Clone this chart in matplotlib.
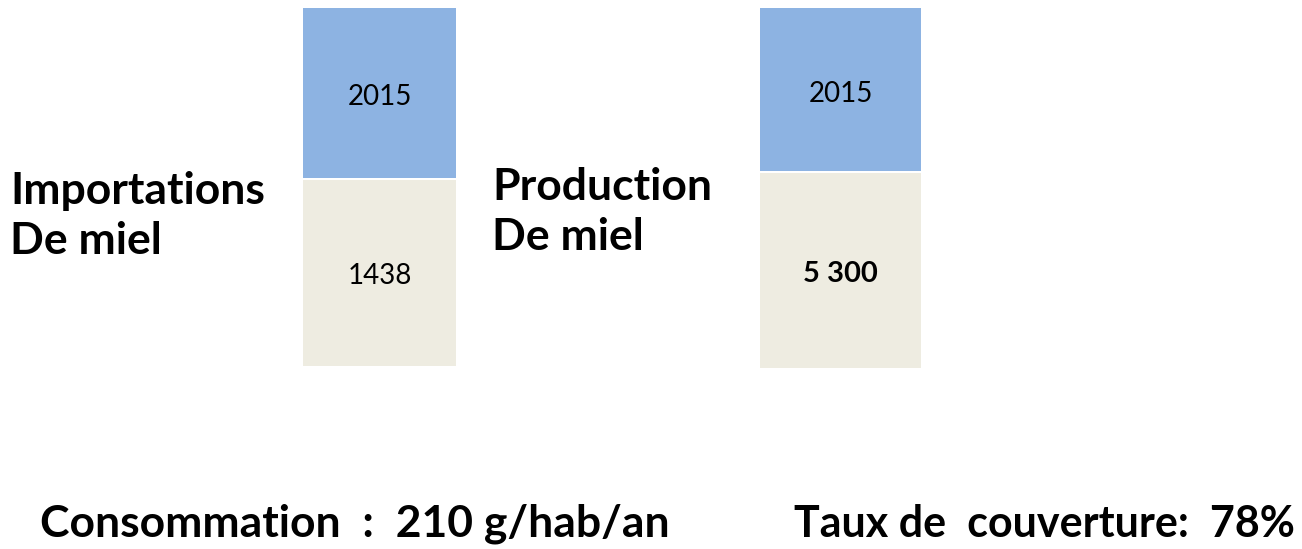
import matplotlib.pyplot as plt

plt.rcParams['font.family'] = ['Lato', 'DejaVu Sans']

# Data
categories = ['Importations\nDe miel', 'Production\nDe miel']
year_labels = ['2015', '2015']
value_labels = ['1438', '5 300']
value_bold = [False, True]
# segment heights (relative, as drawn on the slide)
lower_heights = [186, 195]
upper_heights = [170, 163]
footer = ['Consommation  :  210 g/hab/an', 'Taux de  couverture:  78%']

blue = '#8DB3E2'
beige = '#EEECE1'

W, H = 1302, 549
fig = plt.figure(figsize=(W / 100, H / 100), dpi=100)

# axes boxes in pixels: left, top, right, bottom
boxes = [(303, 8, 456, 366), (760, 8, 921, 368)]
label_pos = [(10, 216), (492, 212)]

for i, (l, t, r, b) in enumerate(boxes):
    ax = fig.add_axes([l / W, 1 - b / H, (r - l) / W, (b - t) / H])
    gap = 2
    total = lower_heights[i] + gap + upper_heights[i]
    ax.bar([0], [lower_heights[i]], width=1, color=beige)
    ax.bar([0], [upper_heights[i]], bottom=lower_heights[i] + gap, width=1, color=blue)
    ax.set_xlim(-0.5, 0.5)
    ax.set_ylim(0, total)
    ax.axis('off')
    ax.text(0, lower_heights[i] + gap + upper_heights[i] / 2 - 4, year_labels[i],
            ha='center', va='center', fontsize=20)
    ax.text(0, lower_heights[i] / 2 - 3, value_labels[i], ha='center', va='center',
            fontsize=21 if value_bold[i] else 20,
            fontweight='bold' if value_bold[i] else 'normal')

    x, y = label_pos[i]
    fig.text(x / W, 1 - y / H, categories[i], ha='left', va='center',
             fontsize=32, fontweight='bold', linespacing=1.3)

fig.text(40 / W, 1 - 524 / H, footer[0], ha='left', va='center',
         fontsize=32, fontweight='bold')
fig.text(1295 / W, 1 - 524 / H, footer[1], ha='right', va='center',
         fontsize=31, fontweight='bold')

fig.savefig('out.png', dpi=100)
